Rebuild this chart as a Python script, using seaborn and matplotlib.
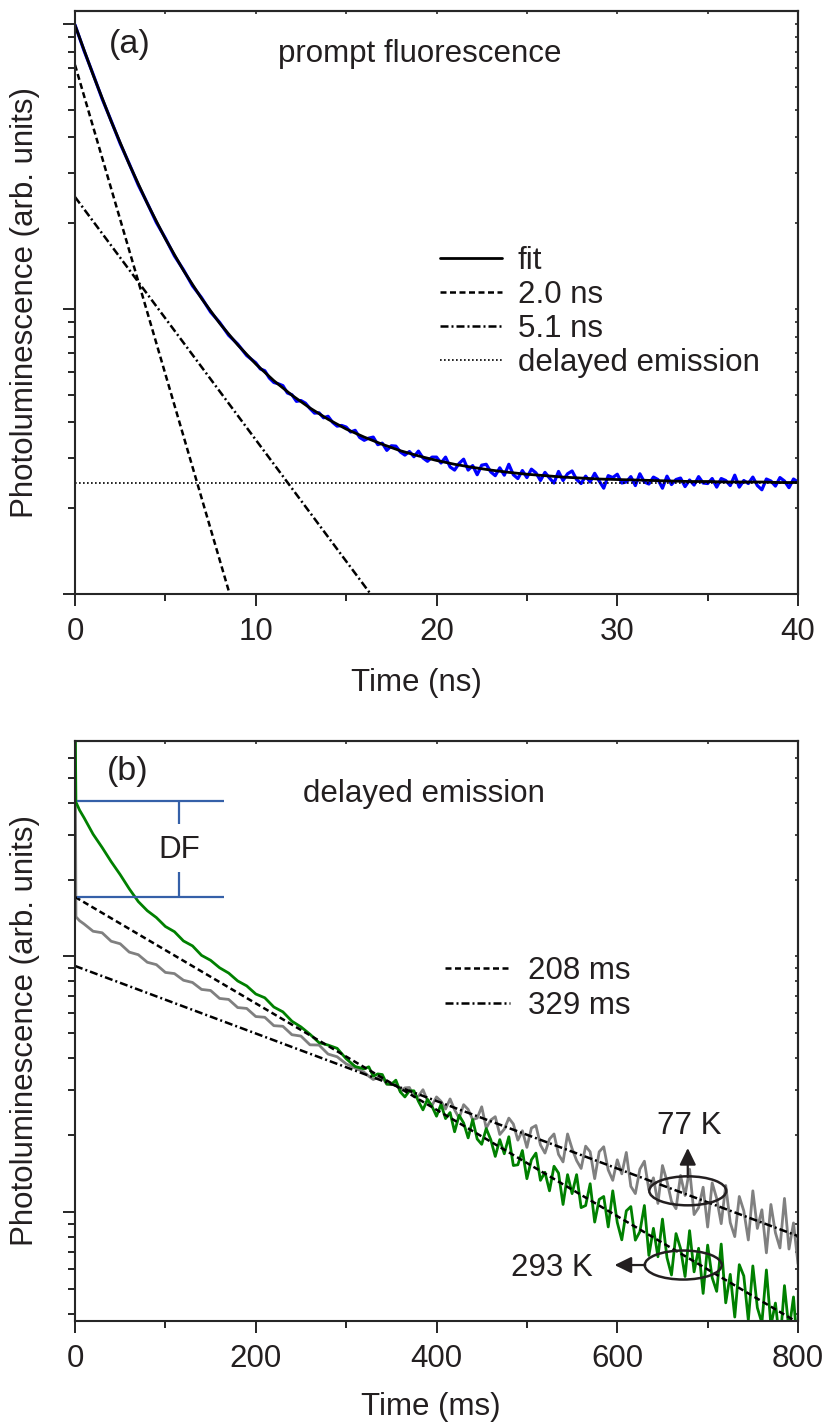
#!/usr/bin/env python3
import numpy as np
import pandas as pd
import matplotlib
matplotlib.use("Agg")
import matplotlib.pyplot as plt
import matplotlib.ticker as mticker
from matplotlib.lines import Line2D
from matplotlib.patches import Ellipse
from matplotlib.transforms import ScaledTranslation
import seaborn as sns

# ---------------- panel (a): prompt fluorescence (time in ns) ----------------
t_blue_ns = list(np.arange(20) * 0.5) + list(10 + np.arange(121) * 0.25)
pl_blue = [99.2, 80.5, 66.6, 54.6, 45.7, 38.0, 32.3, 27.2, 23.5, 20.1,
           17.7, 15.35, 13.72, 12.05, 10.95, 9.75, 8.97, 8.08, 7.53, 6.86,
           # 10 ns onwards, 0.25 ns steps
           6.47, 6.16, 6.07, 5.72, 5.52, 5.46, 5.38, 5.07, 5.00, 4.74,
           4.77, 4.67, 4.47, 4.31, 4.32, 4.15, 4.20, 4.00, 3.88, 3.90,
           3.85, 3.70, 3.75, 3.54, 3.46, 3.52, 3.55, 3.34, 3.38, 3.19,
           3.31, 3.30, 3.15, 3.07, 3.16, 3.03, 3.17, 3.00, 2.92, 3.02,
           3.02, 2.88, 3.02, 2.79, 2.72, 2.87, 2.97, 2.72, 2.82, 2.62,
           2.83, 2.85, 2.68, 2.60, 2.77, 2.61, 2.85, 2.62, 2.54, 2.71,
           2.56, 2.74, 2.66, 2.50, 2.67, 2.55, 2.45, 2.69, 2.50, 2.64,
           2.70, 2.52, 2.44, 2.59, 2.47, 2.65, 2.49, 2.35, 2.60, 2.56,
           2.63, 2.45, 2.47, 2.58, 2.40, 2.64, 2.47, 2.43, 2.57, 2.52,
           2.35, 2.59, 2.42, 2.52, 2.55, 2.38, 2.51, 2.41, 2.58, 2.45,
           2.44, 2.54, 2.37, 2.54, 2.50, 2.40, 2.61, 2.37, 2.50, 2.44,
           2.57, 2.40, 2.32, 2.53, 2.49, 2.39, 2.56, 2.49, 2.36, 2.53, 2.47]

t_fit_ns = list(range(41))
pl_fit = [98.95, 66.30, 45.55, 32.19, 23.44, 17.61, 13.64, 10.88, 8.91, 7.48,
          6.41, 5.60, 4.98, 4.49, 4.10, 3.79, 3.55, 3.35, 3.18, 3.05,
          2.94, 2.85, 2.78, 2.72, 2.67, 2.63, 2.60, 2.57, 2.55, 2.53,
          2.52, 2.51, 2.50, 2.49, 2.48, 2.48, 2.47, 2.47, 2.47, 2.46, 2.46]

fast_ns, fast_pl = [0.0, 9.0], [71.8, 0.80]      # 2.0 ns component
slow_ns, slow_pl = [0.0, 17.0], [24.7, 0.88]     # 5.1 ns component
delayed_ns, delayed_pl = [0.0, 40.0], [2.45, 2.45]

# ---------------- panel (b): delayed emission (time in ms) ----------------
t_ms = [0, 1, 5] + list(range(10, 320, 10)) + list(range(320, 801, 5))
pl_293K = [100, 40.2, 37.4, 34.9, 30.1, 26.7, 23.5, 20.9, 18.4, 16.4,
           15.1, 14.2, 13.1, 12.5, 11.5, 11.0, 10.1, 9.66, 9.03, 8.61,
           8.02, 7.67, 7.13, 6.89, 6.34, 6.07, 5.58, 5.30, 4.96, 4.60,
           4.50, 4.37, 3.98, 3.71,
           # 320 ms onwards, 5 ms steps
           3.63, 3.70, 3.40, 3.47, 3.45, 3.17, 3.16, 3.28, 2.95, 2.82,
           2.98, 2.98, 2.71, 2.51, 2.76, 2.59, 2.37, 2.64, 2.32, 2.45,
           2.06, 2.39, 2.23, 1.95, 2.30, 1.93, 1.84, 2.12, 1.92, 1.65,
           1.92, 1.69, 1.97, 1.52, 1.53, 1.74, 1.35, 1.60, 1.70, 1.33,
           1.43, 1.21, 1.51, 1.42, 1.07, 1.40, 1.18, 1.40, 1.04, 1.06,
           1.29, 0.913, 1.12, 1.15, 0.874, 1.21, 0.910, 0.778, 1.01, 1.05,
           0.776, 0.837, 1.06, 0.676, 0.863, 0.668, 0.938, 0.663, 0.567, 0.823,
           0.720, 0.559, 0.845, 0.583, 0.721, 0.480, 0.742, 0.553, 0.489, 0.749,
           0.441, 0.570, 0.388, 0.622, 0.562, 0.377, 0.615, 0.422, 0.368, 0.593,
           0.360, 0.440, 0.304, 0.515, 0.344, 0.465, 0.274]
pl_77K = [100, 14.3, 13.8, 13.4, 12.55, 12.38, 11.47, 11.21, 10.40, 10.16,
          9.49, 9.29, 8.66, 8.57, 8.07, 7.91, 7.43, 7.36, 6.85, 6.79,
          6.31, 6.26, 5.82, 5.78, 5.36, 5.33, 4.94, 4.88, 4.51, 4.50,
          4.15, 4.05, 3.80, 3.66,
          # 320 ms onwards, 5 ms steps
          3.52, 3.40, 3.30, 3.36, 3.36, 3.16, 3.15, 3.22, 2.96, 3.06,
          3.07, 2.83, 2.84, 3.01, 2.73, 2.61, 2.82, 2.71, 2.53, 2.77,
          2.51, 2.33, 2.63, 2.52, 2.30, 2.33, 2.58, 2.13, 2.29, 2.36,
          2.01, 2.11, 2.33, 2.21, 1.91, 2.08, 1.79, 2.13, 2.18, 1.83,
          1.70, 1.93, 2.02, 1.68, 1.57, 2.02, 1.77, 1.59, 1.48, 1.81,
          1.72, 1.35, 1.72, 1.80, 1.46, 1.33, 1.60, 1.41, 1.71, 1.26,
          1.18, 1.47, 1.58, 1.22, 1.36, 1.08, 1.52, 1.32, 1.10, 1.03,
          1.39, 1.16, 1.47, 0.977, 1.04, 1.25, 0.873, 1.30, 1.13, 0.900,
          1.27, 0.909, 0.801, 1.15, 1.01, 0.777, 1.21, 0.862, 1.02, 0.692,
          1.07, 0.829, 0.723, 1.13, 0.716, 0.906, 0.626]

f208_ms, f208_pl = [0, 800], [17.1, 0.369]
f329_ms, f329_pl = [0, 800], [9.18, 0.805]

df_top, df_bottom = 40.6, 17.1          # DF bracket levels
df_x0, df_x1, df_xm = 2.2, 165, 115

ink = "#231f20"
blue = "#0000ff"
green = "#008000"
gray = "#808080"
df_blue = "#3560a8"
FS = 22.5

sns.set_style("ticks")
plt.rcParams["font.family"] = ["Liberation Sans", "DejaVu Sans"]
plt.rcParams["font.size"] = FS
plt.rcParams["axes.linewidth"] = 1.5

fig = plt.figure(figsize=(8.28, 14.25), dpi=100, facecolor="white")
ax_a = fig.add_axes([0.0906, 0.5832, 0.8732, 0.4091])
ax_b = fig.add_axes([0.0906, 0.0730, 0.8732, 0.4070])

DASH = (0, (2.4, 1.4))
DASHDOT = (0, (3.2, 1.2, 0.8, 1.2))
DOT = (0, (1.0, 1.4))

for ax in (ax_a, ax_b):
    ax.set_yscale("log")

# panel (a)
sns.lineplot(x=t_blue_ns, y=pl_blue, ax=ax_a, color=blue, lw=2.3, estimator=None, sort=False)
sns.lineplot(x=t_fit_ns, y=pl_fit, ax=ax_a, color="black", lw=2.0, estimator=None, sort=False)
sns.lineplot(x=fast_ns, y=fast_pl, ax=ax_a, color="black", lw=1.8, linestyle=DASH, estimator=None)
sns.lineplot(x=slow_ns, y=slow_pl, ax=ax_a, color="black", lw=1.8, linestyle=DASHDOT, estimator=None)
sns.lineplot(x=delayed_ns, y=delayed_pl, ax=ax_a, color="black", lw=1.2, linestyle=DOT, estimator=None)
ax_a.set_xlim(0, 40)
ax_a.set_ylim(1, 111)

# panel (b)
sns.lineplot(x=t_ms, y=pl_77K, ax=ax_b, color=gray, lw=2.0, estimator=None, sort=False)
sns.lineplot(x=t_ms, y=pl_293K, ax=ax_b, color=green, lw=2.0, estimator=None, sort=False)
sns.lineplot(x=f208_ms, y=f208_pl, ax=ax_b, color="black", lw=1.8, linestyle=DASH, estimator=None)
sns.lineplot(x=f329_ms, y=f329_pl, ax=ax_b, color="black", lw=1.8, linestyle=DASHDOT, estimator=None)
ax_b.set_xlim(0, 800)
ax_b.set_ylim(0.3745, 69.7)

# DF bracket
ax_b.hlines([df_top, df_bottom], df_x0, df_x1, color=df_blue, lw=1.6)
ax_b.vlines(df_xm, 33.0, df_top, color=df_blue, lw=1.6)
ax_b.vlines(df_xm, df_bottom, 21.4, color=df_blue, lw=1.6)
ax_b.text(df_xm, 26.1, "DF", ha="center", va="center", color=ink, fontsize=FS)

# temperature annotations
for (xc, yc) in [(678, 1.21), (673, 0.62)]:
    tr = fig.dpi_scale_trans + ScaledTranslation(xc, yc, ax_b.transData)
    ax_b.add_patch(Ellipse((0, 0), 0.77, 0.29, transform=tr, fill=False, ec=ink, lw=1.8, zorder=5))
arrow = dict(arrowstyle="-|>,head_length=0.45,head_width=0.22", color=ink, lw=1.6,
             shrinkA=0, shrinkB=0)
ax_b.annotate("", xy=(678, 1.78), xytext=(678, 1.37), arrowprops=arrow)
ax_b.annotate("", xy=(597, 0.62), xytext=(631, 0.62), arrowprops=arrow)
ax_b.text(680, 2.17, "77 K", ha="center", va="center", color=ink, fontsize=FS)
ax_b.text(528, 0.605, "293 K", ha="center", va="center", color=ink, fontsize=FS)

# texts
ax_a.text(0.076, 0.943, "(a)", transform=ax_a.transAxes, ha="center", va="center", fontsize=24.5, color=ink)
ax_a.text(0.281, 0.9125, "prompt fluorescence", transform=ax_a.transAxes, ha="left", va="baseline", color=ink)
ax_b.text(0.073, 0.9466, "(b)", transform=ax_b.transAxes, ha="center", va="center", fontsize=24.5, color=ink)
ax_b.text(0.315, 0.895, "delayed emission", transform=ax_b.transAxes, ha="left", va="baseline", color=ink)

# legends
h_fit = Line2D([], [], color="black", lw=2.0)
h_dash = Line2D([], [], color="black", lw=1.8, linestyle=DASH)
h_dd = Line2D([], [], color="black", lw=1.8, linestyle=DASHDOT)
h_dot = Line2D([], [], color="black", lw=1.2, linestyle=DOT)
ax_a.legend([h_fit, h_dash, h_dd, h_dot], ["fit", "2.0 ns", "5.1 ns", "delayed emission"],
            loc="upper left", bbox_to_anchor=(0.505, 0.597), frameon=False, borderpad=0,
            borderaxespad=0, handlelength=1.98, handletextpad=0.51, labelspacing=0.13,
            fontsize=FS, labelcolor=ink)
ax_b.legend([h_dash, h_dd], ["208 ms", "329 ms"],
            loc="upper left", bbox_to_anchor=(0.512, 0.630), frameon=False, borderpad=0,
            borderaxespad=0, handlelength=2.08, handletextpad=0.58, labelspacing=0.18,
            fontsize=FS, labelcolor=ink)

# axes, ticks, labels
for ax, xmaj, xmin, xlab, xl_pos in [(ax_a, 10, 5, "Time (ns)", (0.472, -0.1527)),
                                    (ax_b, 200, 100, "Time (ms)", (0.492, -0.148))]:
    ax.xaxis.set_major_locator(mticker.MultipleLocator(xmaj))
    ax.xaxis.set_minor_locator(mticker.MultipleLocator(xmin))
    ax.yaxis.set_major_locator(mticker.LogLocator(base=10))
    ax.yaxis.set_minor_locator(mticker.LogLocator(base=10, subs=np.arange(2, 10)))
    ax.yaxis.set_major_formatter(mticker.NullFormatter())
    ax.yaxis.set_minor_formatter(mticker.NullFormatter())
    ax.tick_params(which="major", direction="out", length=8.6, width=1.4, pad=8,
                   labelsize=FS, labelcolor=ink, top=False, right=False)
    ax.tick_params(which="minor", direction="out", length=5, width=1.4, top=False, right=False)
    for s in ax.spines.values():
        s.set_linewidth(1.5)
        s.set_visible(True)
    ax.set_xlabel(xlab, color=ink, fontsize=FS, va="center")
    ax.xaxis.set_label_coords(*xl_pos)
    ax.set_ylabel("Photoluminescence (arb. units)", color=ink, fontsize=FS, va="center")
    ax.yaxis.set_label_coords(-0.0692, 0.5)

    top = ax.secondary_xaxis("top")
    top.xaxis.set_major_locator(mticker.MultipleLocator(xmin))
    top.xaxis.set_major_formatter(mticker.NullFormatter())
    top.tick_params(direction="in", length=2.5, width=1.2)
    top.spines["top"].set_linewidth(1.5)

    right = ax.secondary_yaxis("right")
    right.yaxis.set_major_locator(mticker.LogLocator(base=10))
    right.yaxis.set_minor_locator(mticker.LogLocator(base=10, subs=np.arange(2, 10)))
    right.yaxis.set_major_formatter(mticker.NullFormatter())
    right.yaxis.set_minor_formatter(mticker.NullFormatter())
    right.tick_params(which="both", direction="in", length=2.5, width=1.2)
    right.spines["right"].set_linewidth(1.5)

fig.savefig("out.png", dpi=100, facecolor="white")
plt.close(fig)
